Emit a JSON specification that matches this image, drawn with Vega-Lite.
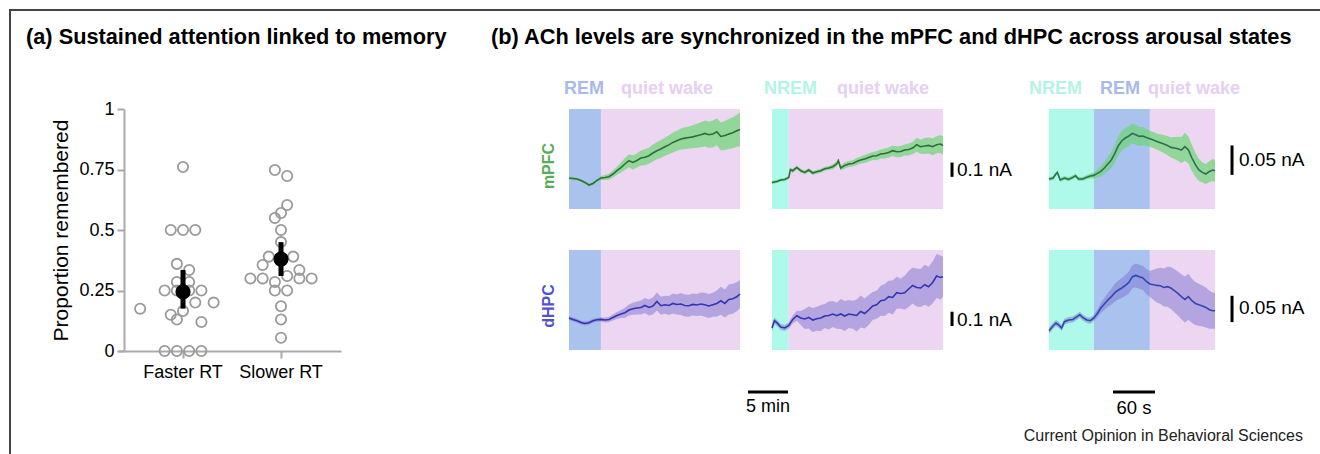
{
"$schema": "https://vega.github.io/schema/vega-lite/v6.json",
"background": "white",
"padding": {"left": 8, "top": 8, "right": 0, "bottom": 0},
"config": {"font": "Liberation Sans", "view": {"stroke": null}, "axis": {"grid": false}},
"datasets": {
"swarm": [
{"g":"Faster RT","v":0.76,"o":0},{"g":"Faster RT","v":0.5,"o":-2},{"g":"Faster RT","v":0.5,"o":0},{"g":"Faster RT","v":0.5,"o":2},
{"g":"Faster RT","v":0.36,"o":-1},{"g":"Faster RT","v":0.335,"o":1},{"g":"Faster RT","v":0.285,"o":-1},{"g":"Faster RT","v":0.285,"o":1},
{"g":"Faster RT","v":0.25,"o":-3},{"g":"Faster RT","v":0.25,"o":-1},{"g":"Faster RT","v":0.25,"o":1},{"g":"Faster RT","v":0.25,"o":3},
{"g":"Faster RT","v":0.2,"o":2},{"g":"Faster RT","v":0.2,"o":5},{"g":"Faster RT","v":0.175,"o":-7},{"g":"Faster RT","v":0.165,"o":0},
{"g":"Faster RT","v":0.15,"o":-2},{"g":"Faster RT","v":0.13,"o":-1},{"g":"Faster RT","v":0.12,"o":3},
{"g":"Faster RT","v":0,"o":-3},{"g":"Faster RT","v":0,"o":-1},{"g":"Faster RT","v":0,"o":1},{"g":"Faster RT","v":0,"o":3},
{"g":"Slower RT","v":0.748,"o":-1},{"g":"Slower RT","v":0.723,"o":1},{"g":"Slower RT","v":0.603,"o":1},{"g":"Slower RT","v":0.57,"o":0},
{"g":"Slower RT","v":0.55,"o":-1},{"g":"Slower RT","v":0.5,"o":0},{"g":"Slower RT","v":0.45,"o":0},{"g":"Slower RT","v":0.39,"o":-2},
{"g":"Slower RT","v":0.39,"o":2},{"g":"Slower RT","v":0.355,"o":-3},{"g":"Slower RT","v":0.335,"o":3},{"g":"Slower RT","v":0.31,"o":1},
{"g":"Slower RT","v":0.3,"o":-5},{"g":"Slower RT","v":0.3,"o":-3},{"g":"Slower RT","v":0.3,"o":3},{"g":"Slower RT","v":0.3,"o":5},
{"g":"Slower RT","v":0.285,"o":-1},{"g":"Slower RT","v":0.25,"o":-1},{"g":"Slower RT","v":0.25,"o":1},{"g":"Slower RT","v":0.185,"o":0},
{"g":"Slower RT","v":0.13,"o":0},{"g":"Slower RT","v":0.055,"o":0}
],
"means": [{"g":"Faster RT","m":0.244,"lo":0.175,"hi":0.335},{"g":"Slower RT","m":0.38,"lo":0.31,"hi":0.45}],
"bg": [
{"c":1,"s":"REM","t":-4,"t2":0},{"c":1,"s":"quiet wake","t":0,"t2":17.4},
{"c":2,"s":"NREM","t":-2.1,"t2":0},{"c":2,"s":"quiet wake","t":0,"t2":19.3},
{"c":3,"s":"NREM","t":-64,"t2":0},{"c":3,"s":"REM","t":0,"t2":80},{"c":3,"s":"quiet wake","t":80,"t2":173}
],
"tr": [
{"p":"m1","t":-4.0,"v":0.217,"lo":0.2065,"hi":0.2275},{"p":"m1","t":-3.5,"v":0.214,"lo":0.2035,"hi":0.2245},
{"p":"m1","t":-3.0,"v":0.210,"lo":0.1995,"hi":0.2205},{"p":"m1","t":-2.5,"v":0.200,"lo":0.1895,"hi":0.2105},
{"p":"m1","t":-2.0,"v":0.186,"lo":0.1755,"hi":0.1965},{"p":"m1","t":-1.5,"v":0.168,"lo":0.1575,"hi":0.1785},
{"p":"m1","t":-1.0,"v":0.179,"lo":0.1685,"hi":0.1895},{"p":"m1","t":-0.5,"v":0.200,"lo":0.1895,"hi":0.2105},
{"p":"m1","t":0.0,"v":0.217,"lo":0.203,"hi":0.231},{"p":"m1","t":0.5,"v":0.221,"lo":0.2035,"hi":0.2385},
{"p":"m1","t":1.0,"v":0.226,"lo":0.205,"hi":0.247},{"p":"m1","t":1.5,"v":0.245,"lo":0.2205,"hi":0.2695},
{"p":"m1","t":2.0,"v":0.268,"lo":0.240,"hi":0.296},{"p":"m1","t":2.5,"v":0.290,"lo":0.255,"hi":0.325},
{"p":"m1","t":3.0,"v":0.315,"lo":0.273,"hi":0.357},{"p":"m1","t":3.5,"v":0.338,"lo":0.2925,"hi":0.3835},
{"p":"m1","t":4.0,"v":0.326,"lo":0.277,"hi":0.375},{"p":"m1","t":4.5,"v":0.340,"lo":0.291,"hi":0.389},
{"p":"m1","t":5.0,"v":0.357,"lo":0.3045,"hi":0.4095},{"p":"m1","t":5.5,"v":0.362,"lo":0.306,"hi":0.418},
{"p":"m1","t":6.0,"v":0.373,"lo":0.317,"hi":0.429},{"p":"m1","t":6.5,"v":0.392,"lo":0.3325,"hi":0.4515},
{"p":"m1","t":7.0,"v":0.408,"lo":0.3485,"hi":0.4675},{"p":"m1","t":7.5,"v":0.420,"lo":0.357,"hi":0.483},
{"p":"m1","t":8.0,"v":0.436,"lo":0.373,"hi":0.499},{"p":"m1","t":8.5,"v":0.449,"lo":0.3825,"hi":0.5155},
{"p":"m1","t":9.0,"v":0.466,"lo":0.396,"hi":0.536},{"p":"m1","t":9.5,"v":0.478,"lo":0.408,"hi":0.548},
{"p":"m1","t":10.0,"v":0.490,"lo":0.4165,"hi":0.5635},{"p":"m1","t":10.5,"v":0.496,"lo":0.419,"hi":0.573},
{"p":"m1","t":11.0,"v":0.501,"lo":0.424,"hi":0.578},{"p":"m1","t":11.5,"v":0.505,"lo":0.4245,"hi":0.5855},
{"p":"m1","t":12.0,"v":0.513,"lo":0.429,"hi":0.597},{"p":"m1","t":12.5,"v":0.520,"lo":0.4325,"hi":0.6075},
{"p":"m1","t":13.0,"v":0.529,"lo":0.438,"hi":0.620},{"p":"m1","t":13.5,"v":0.520,"lo":0.429,"hi":0.611},
{"p":"m1","t":14.0,"v":0.525,"lo":0.4305,"hi":0.6195},{"p":"m1","t":14.5,"v":0.541,"lo":0.4465,"hi":0.6355},
{"p":"m1","t":15.0,"v":0.508,"lo":0.410,"hi":0.606},{"p":"m1","t":15.5,"v":0.515,"lo":0.4135,"hi":0.6165},
{"p":"m1","t":16.0,"v":0.525,"lo":0.420,"hi":0.630},{"p":"m1","t":16.5,"v":0.534,"lo":0.4255,"hi":0.6425},
{"p":"m1","t":17.0,"v":0.548,"lo":0.436,"hi":0.660},{"p":"m1","t":17.4,"v":0.557,"lo":0.438,"hi":0.676},

{"p":"m2","t":-2.1,"v":0.186,"lo":0.1755,"hi":0.1965},{"p":"m2","t":-1.5,"v":0.193,"lo":0.1825,"hi":0.2035},
{"p":"m2","t":-1.0,"v":0.203,"lo":0.1925,"hi":0.2135},{"p":"m2","t":-0.5,"v":0.207,"lo":0.1965,"hi":0.2175},
{"p":"m2","t":0.0,"v":0.221,"lo":0.2105,"hi":0.2315},{"p":"m2","t":0.2,"v":0.275,"lo":0.261,"hi":0.289},
{"p":"m2","t":0.5,"v":0.268,"lo":0.254,"hi":0.282},{"p":"m2","t":1.0,"v":0.291,"lo":0.277,"hi":0.305},
{"p":"m2","t":1.5,"v":0.268,"lo":0.254,"hi":0.282},{"p":"m2","t":2.0,"v":0.256,"lo":0.242,"hi":0.270},
{"p":"m2","t":2.5,"v":0.273,"lo":0.259,"hi":0.287},{"p":"m2","t":3.0,"v":0.252,"lo":0.238,"hi":0.266},
{"p":"m2","t":3.5,"v":0.261,"lo":0.247,"hi":0.275},{"p":"m2","t":4.0,"v":0.268,"lo":0.254,"hi":0.282},
{"p":"m2","t":4.5,"v":0.282,"lo":0.268,"hi":0.296},{"p":"m2","t":5.0,"v":0.287,"lo":0.273,"hi":0.301},
{"p":"m2","t":5.5,"v":0.296,"lo":0.2785,"hi":0.3135},{"p":"m2","t":6.0,"v":0.315,"lo":0.2975,"hi":0.3325},
{"p":"m2","t":6.2,"v":0.338,"lo":0.3205,"hi":0.3555},{"p":"m2","t":6.5,"v":0.287,"lo":0.2695,"hi":0.3045},
{"p":"m2","t":7.0,"v":0.305,"lo":0.284,"hi":0.326},{"p":"m2","t":7.5,"v":0.315,"lo":0.294,"hi":0.336},
{"p":"m2","t":8.0,"v":0.319,"lo":0.298,"hi":0.340},{"p":"m2","t":8.5,"v":0.333,"lo":0.3085,"hi":0.3575},
{"p":"m2","t":9.0,"v":0.343,"lo":0.3185,"hi":0.3675},{"p":"m2","t":9.5,"v":0.350,"lo":0.322,"hi":0.378},
{"p":"m2","t":10.0,"v":0.361,"lo":0.333,"hi":0.389},{"p":"m2","t":10.5,"v":0.371,"lo":0.343,"hi":0.399},
{"p":"m2","t":11.0,"v":0.373,"lo":0.3415,"hi":0.4045},{"p":"m2","t":11.5,"v":0.385,"lo":0.3535,"hi":0.4165},
{"p":"m2","t":12.0,"v":0.389,"lo":0.354,"hi":0.424},{"p":"m2","t":12.5,"v":0.396,"lo":0.361,"hi":0.431},
{"p":"m2","t":13.0,"v":0.408,"lo":0.373,"hi":0.443},{"p":"m2","t":13.5,"v":0.401,"lo":0.3625,"hi":0.4395},
{"p":"m2","t":14.0,"v":0.403,"lo":0.3645,"hi":0.4415},{"p":"m2","t":14.5,"v":0.413,"lo":0.3745,"hi":0.4515},
{"p":"m2","t":15.0,"v":0.417,"lo":0.375,"hi":0.459},{"p":"m2","t":15.5,"v":0.427,"lo":0.385,"hi":0.469},
{"p":"m2","t":16.0,"v":0.450,"lo":0.401,"hi":0.499},{"p":"m2","t":16.5,"v":0.436,"lo":0.387,"hi":0.485},
{"p":"m2","t":17.0,"v":0.441,"lo":0.385,"hi":0.497},{"p":"m2","t":17.5,"v":0.445,"lo":0.389,"hi":0.501},
{"p":"m2","t":18.0,"v":0.436,"lo":0.3765,"hi":0.4955},{"p":"m2","t":18.5,"v":0.450,"lo":0.3905,"hi":0.5095},
{"p":"m2","t":19.0,"v":0.455,"lo":0.392,"hi":0.518},{"p":"m2","t":19.3,"v":0.443,"lo":0.380,"hi":0.506},

{"p":"m3","t":-64,"v":0.0510,"lo":0.0476,"hi":0.0544},{"p":"m3","t":-58,"v":0.0527,"lo":0.0493,"hi":0.0561},
{"p":"m3","t":-55,"v":0.0583,"lo":0.0549,"hi":0.0617},{"p":"m3","t":-52,"v":0.0622,"lo":0.0588,"hi":0.0656},
{"p":"m3","t":-48,"v":0.0493,"lo":0.0459,"hi":0.0527},{"p":"m3","t":-42,"v":0.0527,"lo":0.0493,"hi":0.0561},
{"p":"m3","t":-36,"v":0.0504,"lo":0.0470,"hi":0.0538},{"p":"m3","t":-30,"v":0.0538,"lo":0.0504,"hi":0.0572},
{"p":"m3","t":-26,"v":0.0566,"lo":0.0532,"hi":0.0600},{"p":"m3","t":-22,"v":0.0510,"lo":0.0476,"hi":0.0544},
{"p":"m3","t":-16,"v":0.0510,"lo":0.0476,"hi":0.0544},{"p":"m3","t":-10,"v":0.0538,"lo":0.0504,"hi":0.0572},
{"p":"m3","t":-5,"v":0.0561,"lo":0.0519,"hi":0.0604},{"p":"m3","t":0,"v":0.0571,"lo":0.0520,"hi":0.0622},
{"p":"m3","t":5,"v":0.0605,"lo":0.0537,"hi":0.0673},{"p":"m3","t":10,"v":0.0639,"lo":0.0554,"hi":0.0724},
{"p":"m3","t":15,"v":0.0697,"lo":0.0595,"hi":0.0799},{"p":"m3","t":20,"v":0.0765,"lo":0.0646,"hi":0.0884},
{"p":"m3","t":25,"v":0.0833,"lo":0.0697,"hi":0.0969},{"p":"m3","t":30,"v":0.0945,"lo":0.0792,"hi":0.1098},
{"p":"m3","t":35,"v":0.1076,"lo":0.0914,"hi":0.1238},{"p":"m3","t":40,"v":0.1161,"lo":0.0991,"hi":0.1331},
{"p":"m3","t":45,"v":0.1207,"lo":0.1037,"hi":0.1377},{"p":"m3","t":50,"v":0.1241,"lo":0.1071,"hi":0.1411},
{"p":"m3","t":55,"v":0.1285,"lo":0.1115,"hi":0.1455},{"p":"m3","t":60,"v":0.1263,"lo":0.1093,"hi":0.1433},
{"p":"m3","t":65,"v":0.1234,"lo":0.1072,"hi":0.1396},{"p":"m3","t":70,"v":0.1241,"lo":0.1088,"hi":0.1394},
{"p":"m3","t":75,"v":0.1217,"lo":0.1072,"hi":0.1362},{"p":"m3","t":80,"v":0.1195,"lo":0.1059,"hi":0.1331},
{"p":"m3","t":85,"v":0.1173,"lo":0.1037,"hi":0.1309},{"p":"m3","t":90,"v":0.1149,"lo":0.1013,"hi":0.1285},
{"p":"m3","t":95,"v":0.1127,"lo":0.0982,"hi":0.1272},{"p":"m3","t":100,"v":0.1105,"lo":0.0952,"hi":0.1258},
{"p":"m3","t":105,"v":0.1081,"lo":0.0919,"hi":0.1243},{"p":"m3","t":110,"v":0.1047,"lo":0.0877,"hi":0.1217},
{"p":"m3","t":115,"v":0.1037,"lo":0.0850,"hi":0.1224},{"p":"m3","t":120,"v":0.1025,"lo":0.0821,"hi":0.1229},
{"p":"m3","t":125,"v":0.1003,"lo":0.0782,"hi":0.1224},{"p":"m3","t":130,"v":0.1059,"lo":0.0821,"hi":0.1297},
{"p":"m3","t":135,"v":0.1003,"lo":0.0773,"hi":0.1233},{"p":"m3","t":140,"v":0.0867,"lo":0.0646,"hi":0.1088},
{"p":"m3","t":145,"v":0.0753,"lo":0.0549,"hi":0.0957},{"p":"m3","t":150,"v":0.0663,"lo":0.0476,"hi":0.0850},
{"p":"m3","t":155,"v":0.0622,"lo":0.0452,"hi":0.0792},{"p":"m3","t":160,"v":0.0595,"lo":0.0425,"hi":0.0765},
{"p":"m3","t":165,"v":0.0639,"lo":0.0460,"hi":0.0818},{"p":"m3","t":170,"v":0.0663,"lo":0.0476,"hi":0.0850},
{"p":"m3","t":173,"v":0.0651,"lo":0.0464,"hi":0.0838},

{"p":"d1","t":-4.0,"v":0.224,"lo":0.210,"hi":0.238},{"p":"d1","t":-3.5,"v":0.214,"lo":0.200,"hi":0.228},
{"p":"d1","t":-3.0,"v":0.205,"lo":0.191,"hi":0.219},{"p":"d1","t":-2.5,"v":0.193,"lo":0.179,"hi":0.207},
{"p":"d1","t":-2.0,"v":0.186,"lo":0.172,"hi":0.200},{"p":"d1","t":-1.5,"v":0.191,"lo":0.177,"hi":0.205},
{"p":"d1","t":-1.0,"v":0.205,"lo":0.191,"hi":0.219},{"p":"d1","t":-0.5,"v":0.212,"lo":0.198,"hi":0.226},
{"p":"d1","t":0.0,"v":0.214,"lo":0.200,"hi":0.228},{"p":"d1","t":0.5,"v":0.210,"lo":0.1925,"hi":0.2275},
{"p":"d1","t":1.0,"v":0.214,"lo":0.1965,"hi":0.2315},{"p":"d1","t":1.5,"v":0.228,"lo":0.207,"hi":0.249},
{"p":"d1","t":2.0,"v":0.242,"lo":0.2175,"hi":0.2665},{"p":"d1","t":2.5,"v":0.252,"lo":0.224,"hi":0.280},
{"p":"d1","t":3.0,"v":0.261,"lo":0.226,"hi":0.296},{"p":"d1","t":3.5,"v":0.280,"lo":0.2415,"hi":0.3185},
{"p":"d1","t":4.0,"v":0.289,"lo":0.247,"hi":0.331},{"p":"d1","t":4.5,"v":0.294,"lo":0.2485,"hi":0.3395},
{"p":"d1","t":5.0,"v":0.298,"lo":0.249,"hi":0.347},{"p":"d1","t":5.5,"v":0.312,"lo":0.2595,"hi":0.3645},
{"p":"d1","t":6.0,"v":0.298,"lo":0.242,"hi":0.354},{"p":"d1","t":6.5,"v":0.308,"lo":0.2485,"hi":0.3675},
{"p":"d1","t":7.0,"v":0.340,"lo":0.277,"hi":0.403},{"p":"d1","t":7.5,"v":0.310,"lo":0.247,"hi":0.373},
{"p":"d1","t":8.0,"v":0.317,"lo":0.254,"hi":0.380},{"p":"d1","t":8.5,"v":0.312,"lo":0.2455,"hi":0.3785},
{"p":"d1","t":9.0,"v":0.326,"lo":0.256,"hi":0.396},{"p":"d1","t":9.5,"v":0.319,"lo":0.249,"hi":0.389},
{"p":"d1","t":10.0,"v":0.322,"lo":0.245,"hi":0.399},{"p":"d1","t":10.5,"v":0.312,"lo":0.235,"hi":0.389},
{"p":"d1","t":11.0,"v":0.310,"lo":0.233,"hi":0.387},{"p":"d1","t":11.5,"v":0.319,"lo":0.242,"hi":0.396},
{"p":"d1","t":12.0,"v":0.315,"lo":0.238,"hi":0.392},{"p":"d1","t":12.5,"v":0.322,"lo":0.2415,"hi":0.4025},
{"p":"d1","t":13.0,"v":0.317,"lo":0.233,"hi":0.401},{"p":"d1","t":13.5,"v":0.308,"lo":0.224,"hi":0.392},
{"p":"d1","t":14.0,"v":0.317,"lo":0.233,"hi":0.401},{"p":"d1","t":14.5,"v":0.326,"lo":0.235,"hi":0.417},
{"p":"d1","t":15.0,"v":0.345,"lo":0.247,"hi":0.443},{"p":"d1","t":15.5,"v":0.326,"lo":0.228,"hi":0.424},
{"p":"d1","t":16.0,"v":0.354,"lo":0.249,"hi":0.459},{"p":"d1","t":16.5,"v":0.359,"lo":0.254,"hi":0.464},
{"p":"d1","t":17.0,"v":0.373,"lo":0.2715,"hi":0.4745},{"p":"d1","t":17.4,"v":0.392,"lo":0.294,"hi":0.490},

{"p":"d2","t":-2.1,"v":0.154,"lo":0.133,"hi":0.175},{"p":"d2","t":-1.8,"v":0.205,"lo":0.184,"hi":0.226},
{"p":"d2","t":-1.4,"v":0.186,"lo":0.165,"hi":0.207},{"p":"d2","t":-1.0,"v":0.161,"lo":0.140,"hi":0.182},
{"p":"d2","t":-0.5,"v":0.154,"lo":0.133,"hi":0.175},{"p":"d2","t":0.0,"v":0.172,"lo":0.151,"hi":0.193},
{"p":"d2","t":0.5,"v":0.214,"lo":0.186,"hi":0.242},{"p":"d2","t":1.0,"v":0.240,"lo":0.205,"hi":0.275},
{"p":"d2","t":1.5,"v":0.224,"lo":0.175,"hi":0.273},{"p":"d2","t":2.0,"v":0.217,"lo":0.147,"hi":0.287},
{"p":"d2","t":2.5,"v":0.228,"lo":0.151,"hi":0.305},{"p":"d2","t":3.0,"v":0.210,"lo":0.126,"hi":0.294},
{"p":"d2","t":3.5,"v":0.219,"lo":0.135,"hi":0.303},{"p":"d2","t":4.0,"v":0.224,"lo":0.133,"hi":0.315},
{"p":"d2","t":4.5,"v":0.238,"lo":0.154,"hi":0.322},{"p":"d2","t":5.0,"v":0.242,"lo":0.144,"hi":0.340},
{"p":"d2","t":5.5,"v":0.252,"lo":0.161,"hi":0.343},{"p":"d2","t":6.0,"v":0.240,"lo":0.149,"hi":0.331},
{"p":"d2","t":6.5,"v":0.252,"lo":0.147,"hi":0.357},{"p":"d2","t":7.0,"v":0.238,"lo":0.133,"hi":0.343},
{"p":"d2","t":7.5,"v":0.252,"lo":0.154,"hi":0.350},{"p":"d2","t":8.0,"v":0.247,"lo":0.149,"hi":0.345},
{"p":"d2","t":8.5,"v":0.242,"lo":0.130,"hi":0.354},{"p":"d2","t":9.0,"v":0.270,"lo":0.158,"hi":0.382},
{"p":"d2","t":9.5,"v":0.256,"lo":0.151,"hi":0.361},{"p":"d2","t":10.0,"v":0.280,"lo":0.175,"hi":0.385},
{"p":"d2","t":10.5,"v":0.308,"lo":0.210,"hi":0.406},{"p":"d2","t":11.0,"v":0.317,"lo":0.219,"hi":0.415},
{"p":"d2","t":11.5,"v":0.345,"lo":0.240,"hi":0.450},{"p":"d2","t":12.0,"v":0.350,"lo":0.238,"hi":0.462},
{"p":"d2","t":12.5,"v":0.373,"lo":0.261,"hi":0.485},{"p":"d2","t":13.0,"v":0.368,"lo":0.249,"hi":0.487},
{"p":"d2","t":13.5,"v":0.401,"lo":0.289,"hi":0.513},{"p":"d2","t":14.0,"v":0.396,"lo":0.291,"hi":0.501},
{"p":"d2","t":14.5,"v":0.401,"lo":0.282,"hi":0.520},{"p":"d2","t":15.0,"v":0.427,"lo":0.301,"hi":0.553},
{"p":"d2","t":15.5,"v":0.452,"lo":0.326,"hi":0.578},{"p":"d2","t":16.0,"v":0.438,"lo":0.305,"hi":0.571},
{"p":"d2","t":16.5,"v":0.434,"lo":0.301,"hi":0.567},{"p":"d2","t":17.0,"v":0.457,"lo":0.317,"hi":0.597},
{"p":"d2","t":17.5,"v":0.443,"lo":0.303,"hi":0.583},{"p":"d2","t":18.0,"v":0.473,"lo":0.326,"hi":0.620},
{"p":"d2","t":18.5,"v":0.518,"lo":0.364,"hi":0.672},{"p":"d2","t":19.0,"v":0.508,"lo":0.354,"hi":0.662},
{"p":"d2","t":19.3,"v":0.513,"lo":0.373,"hi":0.653},

{"p":"d3","t":-64,"v":0.0367,"lo":0.0310,"hi":0.0424},{"p":"d3","t":-58,"v":0.0462,"lo":0.0405,"hi":0.0519},
{"p":"d3","t":-54,"v":0.0513,"lo":0.0456,"hi":0.0570},{"p":"d3","t":-50,"v":0.0475,"lo":0.0418,"hi":0.0532},
{"p":"d3","t":-46,"v":0.0418,"lo":0.0361,"hi":0.0475},{"p":"d3","t":-42,"v":0.0538,"lo":0.0481,"hi":0.0595},
{"p":"d3","t":-36,"v":0.0570,"lo":0.0513,"hi":0.0627},{"p":"d3","t":-30,"v":0.0581,"lo":0.0524,"hi":0.0638},
{"p":"d3","t":-24,"v":0.0633,"lo":0.0576,"hi":0.0690},{"p":"d3","t":-20,"v":0.0671,"lo":0.0614,"hi":0.0728},
{"p":"d3","t":-16,"v":0.0619,"lo":0.0562,"hi":0.0676},{"p":"d3","t":-10,"v":0.0570,"lo":0.0513,"hi":0.0627},
{"p":"d3","t":-5,"v":0.0557,"lo":0.0500,"hi":0.0614},{"p":"d3","t":0,"v":0.0608,"lo":0.0551,"hi":0.0665},
{"p":"d3","t":5,"v":0.0695,"lo":0.0619,"hi":0.0771},{"p":"d3","t":10,"v":0.0798,"lo":0.0703,"hi":0.0893},
{"p":"d3","t":15,"v":0.0874,"lo":0.0760,"hi":0.0988},{"p":"d3","t":20,"v":0.0950,"lo":0.0817,"hi":0.1083},
{"p":"d3","t":25,"v":0.1013,"lo":0.0861,"hi":0.1165},{"p":"d3","t":30,"v":0.1089,"lo":0.0918,"hi":0.1260},
{"p":"d3","t":35,"v":0.1140,"lo":0.0959,"hi":0.1321},{"p":"d3","t":40,"v":0.1178,"lo":0.0988,"hi":0.1368},
{"p":"d3","t":45,"v":0.1227,"lo":0.1027,"hi":0.1427},{"p":"d3","t":50,"v":0.1284,"lo":0.1075,"hi":0.1493},
{"p":"d3","t":55,"v":0.1393,"lo":0.1174,"hi":0.1612},{"p":"d3","t":60,"v":0.1417,"lo":0.1189,"hi":0.1645},
{"p":"d3","t":65,"v":0.1393,"lo":0.1165,"hi":0.1621},{"p":"d3","t":70,"v":0.1368,"lo":0.1140,"hi":0.1596},
{"p":"d3","t":75,"v":0.1303,"lo":0.1065,"hi":0.1541},{"p":"d3","t":80,"v":0.1254,"lo":0.1007,"hi":0.1501},
{"p":"d3","t":85,"v":0.1241,"lo":0.0956,"hi":0.1526},{"p":"d3","t":90,"v":0.1227,"lo":0.0904,"hi":0.1550},
{"p":"d3","t":95,"v":0.1222,"lo":0.0880,"hi":0.1564},{"p":"d3","t":100,"v":0.1189,"lo":0.0828,"hi":0.1550},
{"p":"d3","t":105,"v":0.1203,"lo":0.0823,"hi":0.1583},{"p":"d3","t":110,"v":0.1178,"lo":0.0779,"hi":0.1577},
{"p":"d3","t":115,"v":0.1127,"lo":0.0718,"hi":0.1536},{"p":"d3","t":120,"v":0.1075,"lo":0.0657,"hi":0.1493},
{"p":"d3","t":125,"v":0.1013,"lo":0.0585,"hi":0.1441},{"p":"d3","t":130,"v":0.0961,"lo":0.0524,"hi":0.1398},
{"p":"d3","t":135,"v":0.1013,"lo":0.0576,"hi":0.1450},{"p":"d3","t":140,"v":0.0937,"lo":0.0519,"hi":0.1355},
{"p":"d3","t":145,"v":0.0885,"lo":0.0476,"hi":0.1294},{"p":"d3","t":150,"v":0.0861,"lo":0.0462,"hi":0.1260},
{"p":"d3","t":155,"v":0.0836,"lo":0.0446,"hi":0.1226},{"p":"d3","t":160,"v":0.0809,"lo":0.0429,"hi":0.1189},
{"p":"d3","t":165,"v":0.0766,"lo":0.0405,"hi":0.1127},{"p":"d3","t":170,"v":0.0747,"lo":0.0405,"hi":0.1089},
{"p":"d3","t":173,"v":0.0747,"lo":0.0405,"hi":0.1089}
]
},
"bounds": "flush",
"spacing": 228,
"hconcat": [
{
"width": 223, "height": 242,
"title": {"text": "(a) Sustained attention linked to memory", "anchor": "start", "frame": "group", "dx": -92, "offset": -57, "baseline": "alphabetic", "fontSize": 21.75, "fontWeight": "bold", "color": "#000000"},
"resolve": {"scale": {"x": "independent", "y": "independent"}},
"layer": [
{"data": {"values": [{}]},
 "layer": [
  {"mark": {"type": "rule", "color": "#444444", "strokeWidth": 2, "strokeCap": "square"},
   "encoding": {"x": {"datum": -0.4843, "type": "quantitative", "scale": {"domain": [0, 1], "nice": false, "zero": false}, "axis": null},
                "y": {"datum": 1.4091, "type": "quantitative", "scale": {"domain": [0, 1], "nice": false, "zero": false}, "axis": null},
                "y2": {"datum": -0.4256}}},
  {"mark": {"type": "rule", "color": "#444444", "strokeWidth": 2, "strokeCap": "square"},
   "encoding": {"x": {"datum": -0.4843, "type": "quantitative", "axis": null},
                "x2": {"datum": 5.39},
                "y": {"datum": 1.4091, "type": "quantitative", "axis": null}}}
 ]},
{"layer": [
  {"data": {"name": "swarm"},
   "mark": {"type": "point", "shape": "circle", "filled": false, "color": "#9a9a9a", "strokeWidth": 1.8, "size": 105, "opacity": 1},
   "encoding": {
     "x": {"field": "g", "type": "nominal", "title": null, "scale": {"paddingInner": 0, "paddingOuter": 0.1378, "align": 0.593},
           "axis": {"labelFontSize": 18, "labelColor": "#000000", "labelAngle": 0, "labelPadding": 5, "domainColor": "#aaaaaa", "domainWidth": 2, "tickColor": "#aaaaaa", "tickWidth": 2, "tickSize": 7}},
     "xOffset": {"field": "o", "type": "quantitative", "scale": {"domain": [-8, 8]}},
     "y": {"field": "v", "type": "quantitative", "title": "Proportion remembered", "scale": {"domain": [0, 1], "nice": false, "zero": false},
           "axis": {"title": "Proportion remembered", "values": [0, 0.25, 0.5, 0.75, 1], "format": ".2~f", "offset": -6, "labelFontSize": 18, "labelColor": "#000000", "labelPadding": 3, "labelFlush": false, "labelOverlap": false, "titleFontSize": 21, "titleFontWeight": "normal", "titleColor": "#000000", "titlePadding": 7, "domainColor": "#aaaaaa", "domainWidth": 2, "tickColor": "#aaaaaa", "tickWidth": 2, "tickSize": 7}}}},
  {"data": {"name": "means"},
   "mark": {"type": "rule", "color": "#000000", "strokeWidth": 5},
   "encoding": {"x": {"field": "g", "type": "nominal", "title": null}, "y": {"field": "lo", "type": "quantitative", "title": "Proportion remembered"}, "y2": {"field": "hi"}}},
  {"data": {"name": "means"},
   "mark": {"type": "point", "shape": "circle", "filled": true, "color": "#000000", "size": 230, "opacity": 1},
   "encoding": {"x": {"field": "g", "type": "nominal", "title": null}, "y": {"field": "m", "type": "quantitative", "title": "Proportion remembered"}}}
]}
]
},
{
"title": {"text": "(b) ACh levels are synchronized in the mPFC and dHPC across arousal states", "anchor": "start", "frame": "group", "dx": -78, "offset": 14, "baseline": "alphabetic", "fontSize": 21.75, "fontWeight": "bold", "color": "#000000"},
"bounds": "flush",
"align": "each",
"columns": 3,
"spacing": {"column": 32, "row": 41},
"concat": [
  {"width": 171, "height": 100, "layer": [
   {"data": {"name": "bg"}, "transform": [{"filter": "datum.c === 1"}], "mark": {"type": "rect"},
    "encoding": {"x": {"field": "t", "type": "quantitative", "scale": {"domain": [-4, 17.4], "nice": false, "zero": false}, "axis": null}, "x2": {"field": "t2"},
                 "color": {"field": "s", "type": "nominal", "scale": {"domain": ["REM", "NREM", "quiet wake"], "range": ["#aac3ee", "#aef9e9", "#ecd6f1"]}, "legend": null}}},
   {"data": {"name": "tr"}, "transform": [{"filter": "datum.p === 'm1'"}], "mark": {"type": "area", "color": "#6cd674", "opacity": 0.7},
    "encoding": {"x": {"field": "t", "type": "quantitative", "axis": null}, "y": {"field": "lo", "type": "quantitative", "scale": {"domain": [0, 0.7], "nice": false, "zero": false}, "axis": null}, "y2": {"field": "hi"}}},
   {"data": {"name": "tr"}, "transform": [{"filter": "datum.p === 'm1'"}], "mark": {"type": "line", "color": "#2e6e3a", "strokeWidth": 1.6},
    "encoding": {"x": {"field": "t", "type": "quantitative", "axis": null}, "y": {"field": "v", "type": "quantitative", "axis": null}}},
   {"data": {"values": [{}]}, "mark": {"type": "text", "text": "REM", "align": "left", "baseline": "alphabetic", "fontSize": 18, "fontWeight": "bold", "color": "#a9b9ea"},
    "encoding": {"x": {"datum": -4.63, "type": "quantitative", "axis": null}, "y": {"datum": 0.805, "type": "quantitative", "axis": null}}},
   {"data": {"values": [{}]}, "mark": {"type": "text", "text": "quiet wake", "align": "left", "baseline": "alphabetic", "fontSize": 18, "fontWeight": "bold", "color": "#e5cff2"},
    "encoding": {"x": {"datum": 2.51, "type": "quantitative", "axis": null}, "y": {"datum": 0.805, "type": "quantitative", "axis": null}}},
   {"data": {"values": [{}]}, "mark": {"type": "text", "text": "mPFC", "align": "center", "baseline": "middle", "angle": 270, "fontSize": 16, "fontWeight": "bold", "color": "#56ad56"},
    "encoding": {"x": {"datum": -6.5, "type": "quantitative", "axis": null}, "y": {"datum": 0.301, "type": "quantitative", "axis": null}}}
  ]},
  {"width": 171, "height": 100, "layer": [
   {"data": {"name": "bg"}, "transform": [{"filter": "datum.c === 2"}], "mark": {"type": "rect"},
    "encoding": {"x": {"field": "t", "type": "quantitative", "scale": {"domain": [-2.1, 19.3], "nice": false, "zero": false}, "axis": null}, "x2": {"field": "t2"},
                 "color": {"field": "s", "type": "nominal", "scale": {"domain": ["REM", "NREM", "quiet wake"], "range": ["#aac3ee", "#aef9e9", "#ecd6f1"]}, "legend": null}}},
   {"data": {"name": "tr"}, "transform": [{"filter": "datum.p === 'm2'"}], "mark": {"type": "area", "color": "#6cd674", "opacity": 0.7},
    "encoding": {"x": {"field": "t", "type": "quantitative", "axis": null}, "y": {"field": "lo", "type": "quantitative", "scale": {"domain": [0, 0.7], "nice": false, "zero": false}, "axis": null}, "y2": {"field": "hi"}}},
   {"data": {"name": "tr"}, "transform": [{"filter": "datum.p === 'm2'"}], "mark": {"type": "line", "color": "#2e6e3a", "strokeWidth": 1.6},
    "encoding": {"x": {"field": "t", "type": "quantitative", "axis": null}, "y": {"field": "v", "type": "quantitative", "axis": null}}},
   {"data": {"values": [{}]}, "mark": {"type": "text", "text": "NREM", "align": "left", "baseline": "alphabetic", "fontSize": 18, "fontWeight": "bold", "color": "#b3f5e4"},
    "encoding": {"x": {"datum": -3.1, "type": "quantitative", "axis": null}, "y": {"datum": 0.805, "type": "quantitative", "axis": null}}},
   {"data": {"values": [{}]}, "mark": {"type": "text", "text": "quiet wake", "align": "left", "baseline": "alphabetic", "fontSize": 18, "fontWeight": "bold", "color": "#e5cff2"},
    "encoding": {"x": {"datum": 6.03, "type": "quantitative", "axis": null}, "y": {"datum": 0.805, "type": "quantitative", "axis": null}}},
   {"data": {"values": [{}]}, "mark": {"type": "rule", "color": "#000000", "strokeWidth": 3},
    "encoding": {"x": {"datum": 20.43, "type": "quantitative", "axis": null}, "y": {"datum": 0.225, "type": "quantitative", "axis": null}, "y2": {"datum": 0.325}}},
   {"data": {"values": [{}]}, "mark": {"type": "text", "text": "0.1 nA", "align": "left", "baseline": "alphabetic", "fontSize": 19, "color": "#000000"},
    "encoding": {"x": {"datum": 21.05, "type": "quantitative", "axis": null}, "y": {"datum": 0.231, "type": "quantitative", "axis": null}}}
  ]},
  {"width": 240, "height": 100, "layer": [
   {"data": {"name": "bg"}, "transform": [{"filter": "datum.c === 3"}], "mark": {"type": "rect"},
    "encoding": {"x": {"field": "t", "type": "quantitative", "scale": {"domain": [-169.65, 173], "nice": false, "zero": false}, "axis": null}, "x2": {"field": "t2"},
                 "color": {"field": "s", "type": "nominal", "scale": {"domain": ["REM", "NREM", "quiet wake"], "range": ["#aac3ee", "#aef9e9", "#ecd6f1"]}, "legend": null}}},
   {"data": {"name": "tr"}, "transform": [{"filter": "datum.p === 'm3'"}], "mark": {"type": "area", "color": "#6cd674", "opacity": 0.7},
    "encoding": {"x": {"field": "t", "type": "quantitative", "axis": null}, "y": {"field": "lo", "type": "quantitative", "scale": {"domain": [0, 0.17], "nice": false, "zero": false}, "axis": null}, "y2": {"field": "hi"}}},
   {"data": {"name": "tr"}, "transform": [{"filter": "datum.p === 'm3'"}], "mark": {"type": "line", "color": "#2e6e55", "strokeWidth": 1.6},
    "encoding": {"x": {"field": "t", "type": "quantitative", "axis": null}, "y": {"field": "v", "type": "quantitative", "axis": null}}},
   {"data": {"values": [{}]}, "mark": {"type": "text", "text": "NREM", "align": "left", "baseline": "alphabetic", "fontSize": 18, "fontWeight": "bold", "color": "#b3f5e4"},
    "encoding": {"x": {"datum": -92.6, "type": "quantitative", "axis": null}, "y": {"datum": 0.1955, "type": "quantitative", "axis": null}}},
   {"data": {"values": [{}]}, "mark": {"type": "text", "text": "REM", "align": "left", "baseline": "alphabetic", "fontSize": 18, "fontWeight": "bold", "color": "#a9b9ea"},
    "encoding": {"x": {"datum": 8.8, "type": "quantitative", "axis": null}, "y": {"datum": 0.1955, "type": "quantitative", "axis": null}}},
   {"data": {"values": [{}]}, "mark": {"type": "text", "text": "quiet wake", "align": "left", "baseline": "alphabetic", "fontSize": 18, "fontWeight": "bold", "color": "#e5cff2"},
    "encoding": {"x": {"datum": 77.3, "type": "quantitative", "axis": null}, "y": {"datum": 0.1955, "type": "quantitative", "axis": null}}},
   {"data": {"values": [{}]}, "mark": {"type": "rule", "color": "#000000", "strokeWidth": 3},
    "encoding": {"x": {"datum": 197.3, "type": "quantitative", "axis": null}, "y": {"datum": 0.058, "type": "quantitative", "axis": null}, "y2": {"datum": 0.108}}},
   {"data": {"values": [{}]}, "mark": {"type": "text", "text": "0.05 nA", "align": "left", "baseline": "alphabetic", "fontSize": 19, "color": "#000000"},
    "encoding": {"x": {"datum": 207.3, "type": "quantitative", "axis": null}, "y": {"datum": 0.0731, "type": "quantitative", "axis": null}}}
  ]},
  {"width": 171, "height": 100, "layer": [
   {"data": {"name": "bg"}, "transform": [{"filter": "datum.c === 1"}], "mark": {"type": "rect"},
    "encoding": {"x": {"field": "t", "type": "quantitative", "scale": {"domain": [-4, 17.4], "nice": false, "zero": false}, "axis": null}, "x2": {"field": "t2"},
                 "color": {"field": "s", "type": "nominal", "scale": {"domain": ["REM", "NREM", "quiet wake"], "range": ["#aac3ee", "#aef9e9", "#ecd6f1"]}, "legend": null}}},
   {"data": {"name": "tr"}, "transform": [{"filter": "datum.p === 'd1'"}], "mark": {"type": "area", "color": "#7c74d1", "opacity": 0.5},
    "encoding": {"x": {"field": "t", "type": "quantitative", "axis": null}, "y": {"field": "lo", "type": "quantitative", "scale": {"domain": [0, 0.7], "nice": false, "zero": false}, "axis": null}, "y2": {"field": "hi"}}},
   {"data": {"name": "tr"}, "transform": [{"filter": "datum.p === 'd1'"}], "mark": {"type": "line", "color": "#3434b4", "strokeWidth": 1.6},
    "encoding": {"x": {"field": "t", "type": "quantitative", "axis": null}, "y": {"field": "v", "type": "quantitative", "axis": null}}},
   {"data": {"values": [{}]}, "mark": {"type": "text", "text": "dHPC", "align": "center", "baseline": "middle", "angle": 270, "fontSize": 16, "fontWeight": "bold", "color": "#5252d0"},
    "encoding": {"x": {"datum": -6.5, "type": "quantitative", "axis": null}, "y": {"datum": 0.308, "type": "quantitative", "axis": null}}}
  ]},
  {"width": 171, "height": 100, "layer": [
   {"data": {"name": "bg"}, "transform": [{"filter": "datum.c === 2"}], "mark": {"type": "rect"},
    "encoding": {"x": {"field": "t", "type": "quantitative", "scale": {"domain": [-2.1, 19.3], "nice": false, "zero": false}, "axis": null}, "x2": {"field": "t2"},
                 "color": {"field": "s", "type": "nominal", "scale": {"domain": ["REM", "NREM", "quiet wake"], "range": ["#aac3ee", "#aef9e9", "#ecd6f1"]}, "legend": null}}},
   {"data": {"name": "tr"}, "transform": [{"filter": "datum.p === 'd2'"}], "mark": {"type": "area", "color": "#7c74d1", "opacity": 0.5},
    "encoding": {"x": {"field": "t", "type": "quantitative", "axis": null}, "y": {"field": "lo", "type": "quantitative", "scale": {"domain": [0, 0.7], "nice": false, "zero": false}, "axis": null}, "y2": {"field": "hi"}}},
   {"data": {"name": "tr"}, "transform": [{"filter": "datum.p === 'd2'"}], "mark": {"type": "line", "color": "#3434b4", "strokeWidth": 1.6},
    "encoding": {"x": {"field": "t", "type": "quantitative", "axis": null}, "y": {"field": "v", "type": "quantitative", "axis": null}}},
   {"data": {"values": [{}]}, "mark": {"type": "rule", "color": "#000000", "strokeWidth": 3},
    "encoding": {"x": {"datum": 20.43, "type": "quantitative", "axis": null}, "y": {"datum": 0.168, "type": "quantitative", "axis": null}, "y2": {"datum": 0.268}}},
   {"data": {"values": [{}]}, "mark": {"type": "text", "text": "0.1 nA", "align": "left", "baseline": "alphabetic", "fontSize": 19, "color": "#000000"},
    "encoding": {"x": {"datum": 21.05, "type": "quantitative", "axis": null}, "y": {"datum": 0.168, "type": "quantitative", "axis": null}}},
   {"data": {"values": [{}]}, "mark": {"type": "rule", "color": "#000000", "strokeWidth": 3},
    "encoding": {"x": {"datum": -5.1, "type": "quantitative", "axis": null}, "x2": {"datum": -0.1}, "y": {"datum": -0.294, "type": "quantitative", "axis": null}}},
   {"data": {"values": [{}]}, "mark": {"type": "text", "text": "5 min", "align": "center", "baseline": "alphabetic", "fontSize": 18, "color": "#000000"},
    "encoding": {"x": {"datum": -2.6, "type": "quantitative", "axis": null}, "y": {"datum": -0.434, "type": "quantitative", "axis": null}}}
  ]},
  {"width": 240, "height": 100, "layer": [
   {"data": {"name": "bg"}, "transform": [{"filter": "datum.c === 3"}], "mark": {"type": "rect"},
    "encoding": {"x": {"field": "t", "type": "quantitative", "scale": {"domain": [-169.65, 173], "nice": false, "zero": false}, "axis": null}, "x2": {"field": "t2"},
                 "color": {"field": "s", "type": "nominal", "scale": {"domain": ["REM", "NREM", "quiet wake"], "range": ["#aac3ee", "#aef9e9", "#ecd6f1"]}, "legend": null}}},
   {"data": {"name": "tr"}, "transform": [{"filter": "datum.p === 'd3'"}], "mark": {"type": "area", "color": "#7c74d1", "opacity": 0.5},
    "encoding": {"x": {"field": "t", "type": "quantitative", "axis": null}, "y": {"field": "lo", "type": "quantitative", "scale": {"domain": [0, 0.19], "nice": false, "zero": false}, "axis": null}, "y2": {"field": "hi"}}},
   {"data": {"name": "tr"}, "transform": [{"filter": "datum.p === 'd3'"}], "mark": {"type": "line", "color": "#3446b0", "strokeWidth": 1.6},
    "encoding": {"x": {"field": "t", "type": "quantitative", "axis": null}, "y": {"field": "v", "type": "quantitative", "axis": null}}},
   {"data": {"values": [{}]}, "mark": {"type": "rule", "color": "#000000", "strokeWidth": 3},
    "encoding": {"x": {"datum": 197.3, "type": "quantitative", "axis": null}, "y": {"datum": 0.053, "type": "quantitative", "axis": null}, "y2": {"datum": 0.103}}},
   {"data": {"values": [{}]}, "mark": {"type": "text", "text": "0.05 nA", "align": "left", "baseline": "alphabetic", "fontSize": 19, "color": "#000000"},
    "encoding": {"x": {"datum": 207.3, "type": "quantitative", "axis": null}, "y": {"datum": 0.0684, "type": "quantitative", "axis": null}}},
   {"data": {"values": [{}]}, "mark": {"type": "rule", "color": "#000000", "strokeWidth": 3},
    "encoding": {"x": {"datum": 27.4, "type": "quantitative", "axis": null}, "x2": {"datum": 87.4}, "y": {"datum": -0.0798, "type": "quantitative", "axis": null}}},
   {"data": {"values": [{}]}, "mark": {"type": "text", "text": "60 s", "align": "center", "baseline": "alphabetic", "fontSize": 18.5, "color": "#000000"},
    "encoding": {"x": {"datum": 57.4, "type": "quantitative", "axis": null}, "y": {"datum": -0.1216, "type": "quantitative", "axis": null}}},
   {"data": {"values": [{}]}, "mark": {"type": "text", "text": "Current Opinion in Behavioral Sciences", "align": "right", "baseline": "alphabetic", "fontSize": 16, "color": "#222222"},
    "encoding": {"x": {"datum": 298.6, "type": "quantitative", "axis": null}, "y": {"datum": -0.1729, "type": "quantitative", "axis": null}}}
  ]}
]
}
]
}
